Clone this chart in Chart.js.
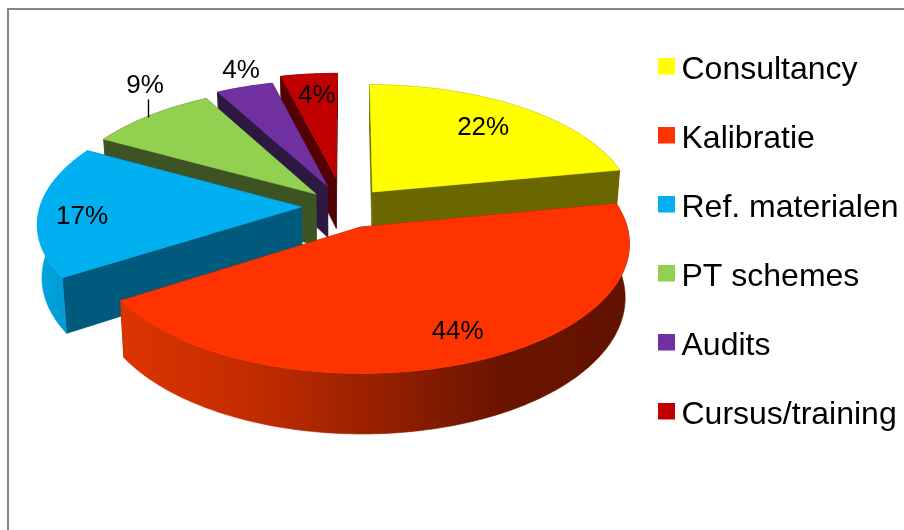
<!DOCTYPE html>
<html>
<head>
<meta charset="utf-8">
<script src="https://cdn.jsdelivr.net/npm/chart.js@4"></script>
<style>html,body{margin:0;padding:0;background:#fff}canvas{display:block}</style>
</head>
<body>
<canvas id="c" width="904" height="530"></canvas>
<script>
const categories = ['Consultancy','Kalibratie','Ref. materialen','PT schemes','Audits','Cursus/training'];
const values = [22,44,17,9,4,4];
const colors = ['#FFFF00','#FF3300','#00B0F0','#92D050','#7030A0','#C00000'];
const wallColors = ['#6B6700','#6B1500','#005A7D','#3D5323','#2E1842','#520000'];
const curveStops = [
  ['#6B6700','#6B6700'],
  ['#DC3400','#C42C00','#982000','#6A1400','#621200'],
  ['#00A4E0','#0094CC'],
  ['#3D5323','#3D5323'],
  ['#2E1842','#2E1842'],
  ['#520000','#520000']
];
// ground-plane explosion of each slice (unit = pie radius)
const explodeX = [0.095,0.047,-0.178,-0.124,-0.08,-0.047];
const explodeY = [-0.107,0.176,0.016,-0.09,-0.155,-0.228];
// label placement: radial distance and angle nudge (deg) from the slice middle
const labelRadius = [0.74,0.813,0.833,1.263,1.167,0.768];
const labelNudge = [-0.64,-2.1,-3.4,8.2,2.0,0.7];
const leaderLength = [0,0,0,18,0,0];

// camera
const cam = {cx:348, cy:205, A:261, B:123, k:0.12, depth:52, converge:0.015};
function project(X,Y,z){
  const w = 1/(1-cam.k*Y), c = 1-z*cam.converge;
  return {x:cam.cx+cam.A*X*w*c, y:cam.cy+cam.B*Y*w+z*cam.depth*w};
}
function trace(ctx,pts,move){
  pts.forEach((p,i)=>{ if(i===0&&move) ctx.moveTo(p.x,p.y); else ctx.lineTo(p.x,p.y); });
}
function fillPoly(ctx,pts,fill){
  ctx.beginPath(); trace(ctx,pts,true); ctx.closePath();
  ctx.fillStyle=fill; ctx.strokeStyle=fill; ctx.lineWidth=0.6; ctx.fill(); ctx.stroke();
}
const pie3d = {
  id:'pie3d',
  beforeDraw(chart){
    const ctx=chart.ctx; ctx.save();
    ctx.strokeStyle='#868686'; ctx.lineWidth=2;
    ctx.strokeRect(8,9,1200,1200);
    ctx.restore();
  },
  afterLayout(chart){
    const l=chart.legend, p=l.options.labels.padding;
    l.left=664.5-p; l.top=54-p;
  },
  beforeDatasetsDraw(chart){
    const ctx=chart.ctx, arcs=chart.getDatasetMeta(0).data;
    const order=arcs.map((a,i)=>i).sort((i,j)=>{
      const m=a=>Math.sin((a.startAngle+a.endAngle)/2);
      return m(arcs[i])-m(arcs[j]);
    });
    ctx.save();
    for(const i of order){
      const a=arcs[i], ex=explodeX[i], ey=explodeY[i];
      const n=Math.max(8,Math.ceil((a.endAngle-a.startAngle)*60));
      const rim=z=>{const r=[];for(let s=0;s<=n;s++){const t=a.startAngle+(a.endAngle-a.startAngle)*s/n;
        r.push(project(ex+Math.cos(t),ey+Math.sin(t),z));}return r;};
      const top=rim(0), bot=rim(1), apex0=project(ex,ey,0), apex1=project(ex,ey,1);
      // radial walls
      fillPoly(ctx,[apex0,top[0],bot[0],apex1],wallColors[i]);
      fillPoly(ctx,[apex0,top[n],bot[n],apex1],wallColors[i]);
      // curved wall
      const xs=top.map(p=>p.x), x0=Math.min(...xs), x1=Math.max(...xs);
      const g=ctx.createLinearGradient(x0,0,x1,0);
      curveStops[i].forEach((c,s,arr)=>g.addColorStop(s/(arr.length-1),c));
      fillPoly(ctx,top.concat(bot.slice().reverse()),g);
      // top face
      fillPoly(ctx,[apex0].concat(top),colors[i]);
    }
    ctx.restore();
    return false;
  },
  afterDraw(chart){
    const ctx=chart.ctx, arcs=chart.getDatasetMeta(0).data;
    ctx.save();
    ctx.font='26px "Liberation Sans", Arial, sans-serif';
    ctx.fillStyle='#000'; ctx.textAlign='center'; ctx.textBaseline='middle';
    arcs.forEach((a,i)=>{
      const t=(a.startAngle+a.endAngle)/2+labelNudge[i]*Math.PI/180, r=labelRadius[i];
      const p=project(explodeX[i]+r*Math.cos(t),explodeY[i]+r*Math.sin(t),0);
      ctx.fillText(values[i]+'%',p.x,p.y);
      if(leaderLength[i]){
        ctx.strokeStyle='#000'; ctx.lineWidth=1.4;
        ctx.beginPath(); ctx.moveTo(p.x+3.5,p.y+14); ctx.lineTo(p.x+3.5,p.y+14+leaderLength[i]); ctx.stroke();
      }
    });
    ctx.restore();
  }
};
function swatch(color){
  const c=document.createElement('canvas'); c.width=20; c.height=25;
  const x=c.getContext('2d'); x.fillStyle=color; x.fillRect(3,0,17,17);
  return c;
}
new Chart(document.getElementById('c'),{
  type:'pie',
  data:{labels:categories,datasets:[{data:values,backgroundColor:colors,borderWidth:0}]},
  options:{
    responsive:false,animation:false,
    plugins:{
      tooltip:{enabled:false},
      legend:{
        position:'right',align:'start',
        labels:{
          font:{family:'"Liberation Sans", Arial, sans-serif',size:32},
          color:'#000',padding:37,usePointStyle:true,pointStyleWidth:1,boxHeight:32,
          generateLabels:(chart)=>categories.map((t,i)=>({text:t,fillStyle:colors[i],strokeStyle:colors[i],lineWidth:0,hidden:false,index:i,pointStyle:swatch(colors[i])}))
        }
      }
    }
  },
  plugins:[pie3d]
});
</script>
</body>
</html>
